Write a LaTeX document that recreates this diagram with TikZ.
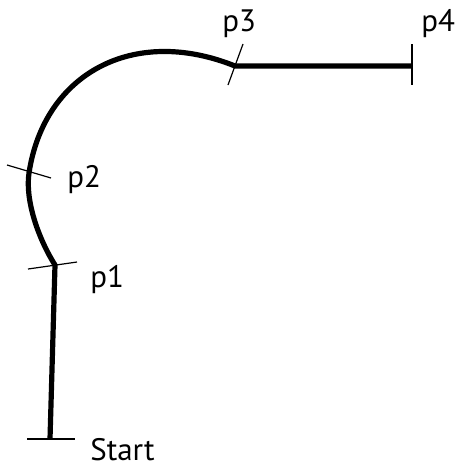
\documentclass[tikz,border=0pt]{standalone}
\usepackage{fontspec}
\setmainfont{PT Sans}
\usetikzlibrary{positioning,calc}
\tikzset{
  trackline/.style={line width=2.6pt,line cap=butt,line join=round},
  tickline/.style={line width=.6pt},
  plabel/.style={anchor=base west,inner sep=0pt,font=\fontsize{15.5}{18}\selectfont}
}

\begin{document}
\begin{tikzpicture}[x=.5pt,y=-.5pt]
  \useasboundingbox (0,0) rectangle (457,466);
  \coordinate (start) at (50,439);
  \coordinate (p1) at (55,265);
  \coordinate (p2) at (29,173);
  \coordinate (p3) at (235,66);
  \coordinate (p4) at (411,66);
  % the track
  \draw[trackline] (start) -- (p1)
    .. controls (38,238) and (25,200) .. (p2)
    .. controls (44,74) and (133,25) .. (p3) -- (p4);
  % cross ticks
  \draw[tickline] ($(start)+(-23,0)$) -- ($(start)+(25,0)$);
  \draw[tickline] ($(p1)+(-27,4)$) -- ($(p1)+(22,-3)$);
  \draw[tickline] ($(p2)+(-22,-8)$) -- ($(p2)+(22,5)$);
  \draw[tickline] ($(p3)+(8,-22)$) -- ($(p3)+(-7,19)$);
  \draw[tickline] ($(p4)+(1,-22)$) -- ($(p4)+(1,19)$);
  % labels
  \node[plabel] (lstart) at ($(start)+(40,21)$) {Start};
  \node[plabel] (lp1) at ($(p1)+(35,22)$) {p1};
  \node[plabel] (lp2) at ($(p2)+(38,14)$) {p2};
  \node[plabel] (lp3) at ($(p3)+(-13,-34)$) {p3};
  \node[plabel] (lp4) at ($(p4)+(10,-34)$) {p4};
\end{tikzpicture}
\end{document}
